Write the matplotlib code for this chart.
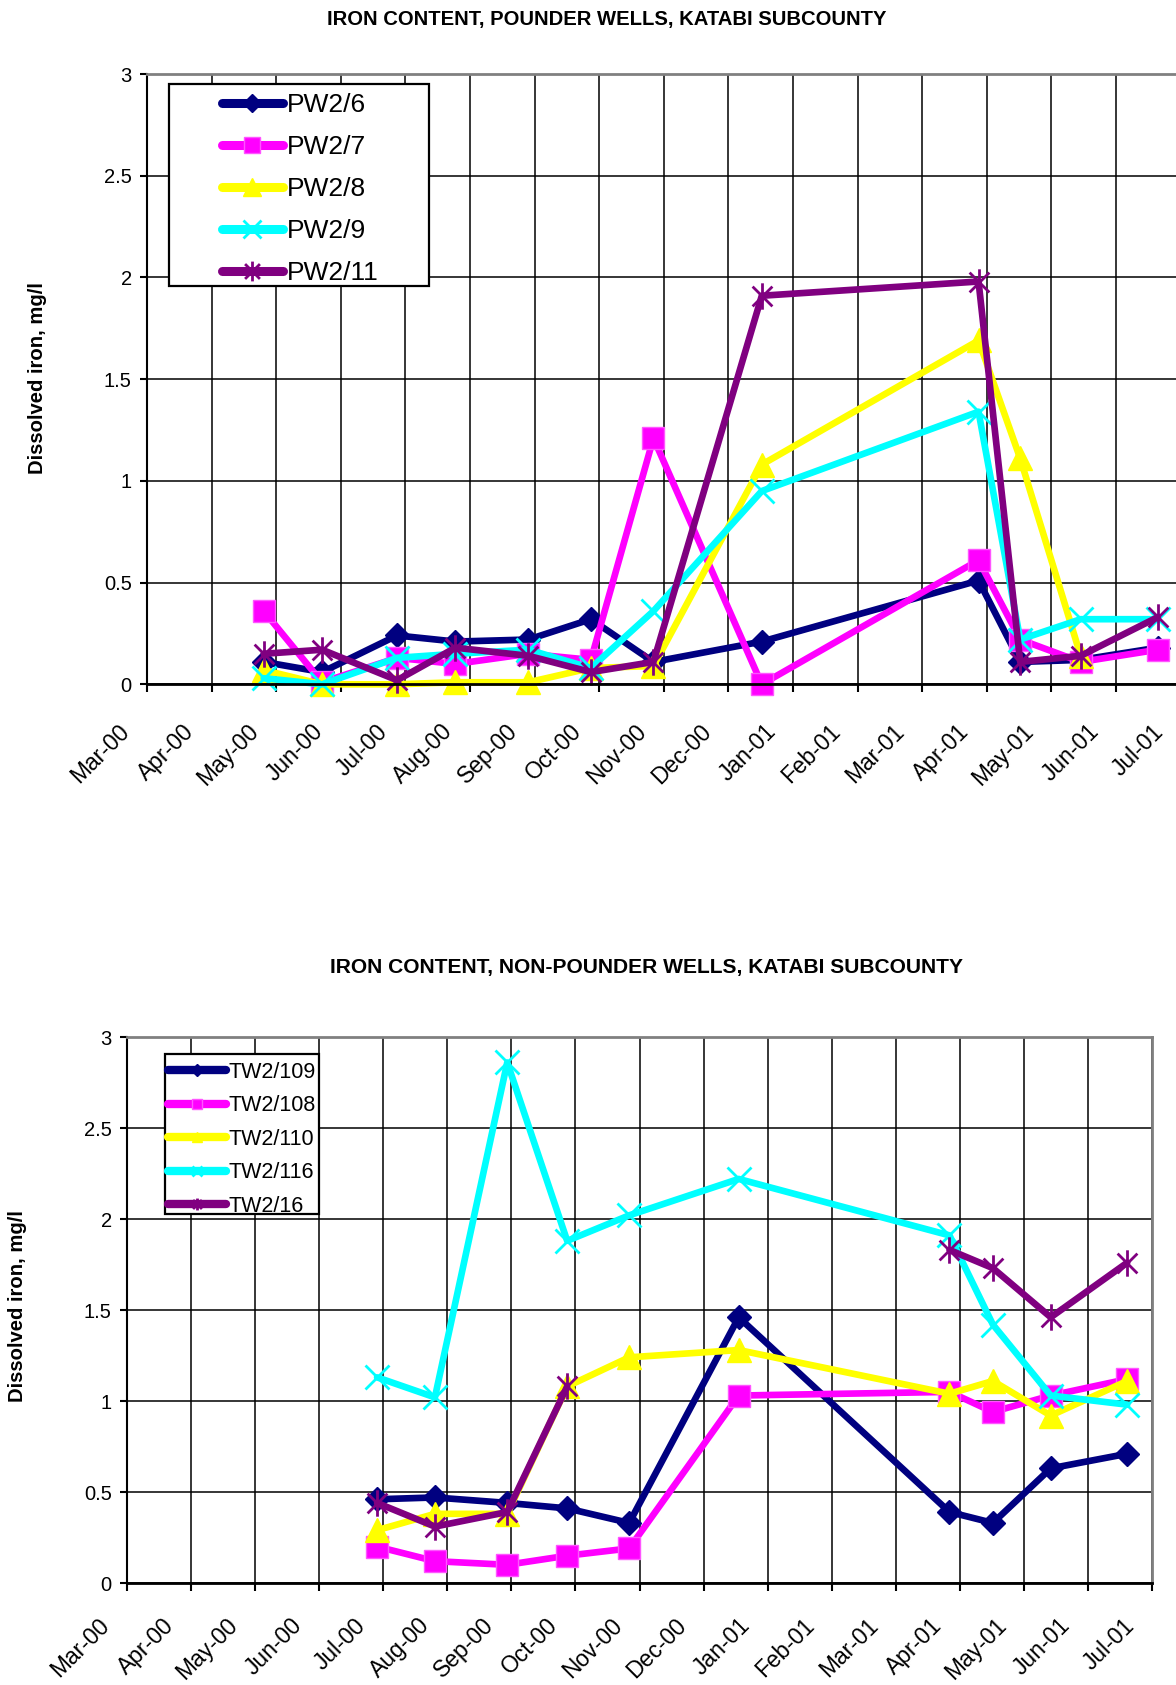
import numpy as np
import matplotlib
matplotlib.use("Agg")
import matplotlib.pyplot as plt
import matplotlib.dates as mdates
from matplotlib.path import Path
from matplotlib.patches import Rectangle
from matplotlib.transforms import ScaledTranslation
import datetime as dt

plt.rcParams['font.family'] = ['Liberation Sans', 'DejaVu Sans']

# ---------------- data ----------------
month_labels = ['Mar-00', 'Apr-00', 'May-00', 'Jun-00', 'Jul-00', 'Aug-00', 'Sep-00',
                'Oct-00', 'Nov-00', 'Dec-00', 'Jan-01', 'Feb-01', 'Mar-01', 'Apr-01',
                'May-01', 'Jun-01', 'Jul-01']

top_dates = ['2000-04-26', '2000-05-24', '2000-06-29', '2000-07-27', '2000-08-31',
             '2000-09-30', '2000-10-30', '2000-12-21', '2001-04-04', '2001-04-24',
             '2001-05-23', '2001-06-29']
pw2_6 = [0.11, 0.06, 0.24, 0.21, 0.22, 0.32, 0.11, 0.21, 0.51, 0.11, 0.12, 0.18]
pw2_7 = [0.36, 0.01, 0.13, 0.10, 0.15, 0.12, 1.21, 0.00, 0.61, 0.22, 0.11, 0.17]
pw2_8 = [0.07, 0.00, 0.00, 0.01, 0.01, 0.08, 0.09, 1.08, 1.69, 1.11, 0.14, np.nan]
pw2_9 = [0.03, 0.00, 0.13, 0.15, 0.17, 0.08, 0.36, 0.95, 1.34, 0.22, 0.32, 0.32]
pw2_11 = [0.15, 0.17, 0.02, 0.18, 0.14, 0.06, 0.11, 1.91, 1.98, 0.11, 0.14, 0.33]

bot_dates = ['2000-06-30', '2000-07-28', '2000-09-01', '2000-09-30', '2000-10-30',
             '2000-12-22', '2001-04-03', '2001-04-24', '2001-05-22', '2001-06-28']
tw2_109 = [0.46, 0.47, 0.44, 0.41, 0.33, 1.46, 0.39, 0.33, 0.63, 0.71]
tw2_108 = [0.20, 0.12, 0.10, 0.15, 0.19, 1.03, 1.05, 0.94, 1.03, 1.12]
tw2_110 = [0.29, 0.38, 0.38, 1.08, 1.24, 1.28, 1.04, 1.11, 0.92, 1.11]
tw2_116 = [1.13, 1.02, 2.86, 1.88, 2.02, 2.22, 1.91, 1.42, 1.03, 0.98]
tw2_16 = [0.44, 0.31, 0.39, 1.08, np.nan, np.nan, 1.83, 1.73, 1.46, 1.76]

# ---------------- styles ----------------
star_path = Path([(0, -1), (0, 1), (-0.75, -0.75), (0.75, 0.75), (-0.75, 0.75), (0.75, -0.75)],
                 [Path.MOVETO, Path.LINETO] * 3)

styles = [
    dict(color='#000080', marker='D', ms=12.5, mfc='#000080', mec='#000080', mew=1),
    dict(color='#FF00FF', marker='s', ms=16, mfc='#FF00FF', mec='#FF55FF', mew=1),
    dict(color='#FFFF00', marker='^', ms=17, mfc='#FFFF00', mec='#FFFF00', mew=1),
    dict(color='#00FFFF', marker='x', ms=17, mec='#00FFFF', mew=2),
    dict(color='#800080', marker=star_path, ms=19, mfc='none', mec='#800080', mew=2),
]

W, H = 1176, 1685
fig = plt.figure(figsize=(W / 100, H / 100), dpi=100)

start = dt.date(2000, 3, 1)
tick_dates = [start + dt.timedelta(days=31 * k) for k in range(len(month_labels))]
xmin = mdates.date2num(tick_dates[0])
xmax = mdates.date2num(tick_dates[-1])


def setup_axes(ax, right_spine, xpad):
    ax.set_xlim(xmin, xmax)
    ax.set_ylim(0, 3)
    ax.set_yticks(np.arange(0, 3.01, 0.5))
    ax.set_yticklabels(['0', '0.5', '1', '1.5', '2', '2.5', '3'])
    ax.set_xticks([mdates.date2num(d) for d in tick_dates])
    ax.set_xticklabels(month_labels, rotation=45, ha='right', va='center',
                       rotation_mode='anchor', fontsize=16.5)
    ax.grid(True, color='black', linewidth=1.1)
    ax.set_axisbelow(True)
    ax.spines['top'].set_color('#808080')
    ax.spines['top'].set_linewidth(2)
    ax.spines['right'].set_visible(right_spine)
    ax.spines['right'].set_color('#808080')
    ax.spines['right'].set_linewidth(2)
    ax.spines['left'].set_linewidth(1.5)
    ax.spines['bottom'].set_linewidth(2)
    ax.tick_params(axis='x', direction='out', length=6, width=1.5, pad=xpad)
    ax.tick_params(axis='y', direction='out', length=5, width=1.5, pad=6, labelsize=14.5)
    off = ScaledTranslation(-21 / 100, 0, fig.dpi_scale_trans)
    for lab in ax.get_xticklabels():
        lab.set_transform(lab.get_transform() + off)


def legend_box(x0, y0, x1, y1):
    r = Rectangle((x0 / W, 1 - y1 / H), (x1 - x0) / W, (y1 - y0) / H,
                  transform=fig.transFigure, facecolor='white', edgecolor='black',
                  linewidth=1.6, zorder=4)
    fig.add_artist(r)


# ---------------- top chart ----------------
ax1_l, ax1_r, ax1_t, ax1_b = 147, 1180.7, 74, 684.3
ax1 = fig.add_axes([ax1_l / W, 1 - ax1_b / H, (ax1_r - ax1_l) / W, (ax1_b - ax1_t) / H])
setup_axes(ax1, right_spine=False, xpad=25.5)
tx = mdates.datestr2num(top_dates)
for vals, name, st in zip([pw2_6, pw2_7, pw2_8, pw2_9, pw2_11],
                          ['PW2/6', 'PW2/7', 'PW2/8', 'PW2/9', 'PW2/11'], styles):
    ax1.plot(tx, vals, label=name, linewidth=4.8, solid_capstyle='round',
             solid_joinstyle='round', clip_on=False, **st)
legend_box(169, 84, 429, 286)
leg1 = fig.legend(*ax1.get_legend_handles_labels(), loc='upper left',
                  bbox_to_anchor=(222 / W, 1 - 93 / H), borderaxespad=0, borderpad=0,
                  fontsize=19, frameon=False, handlelength=2.3, handletextpad=0.15,
                  labelspacing=0.68, markerscale=0.75)
leg1.set_zorder(6)
for h in leg1.get_lines():
    h.set_linewidth(6.5)

fig.text(607 / W, 1 - 20 / H, 'IRON CONTENT, POUNDER WELLS, KATABI SUBCOUNTY',
         ha='center', va='center', fontsize=14.6, fontweight='bold')
fig.text(38 / W, 1 - 378 / H, 'Dissolved iron, mg/l', rotation=90, ha='center',
         va='center', fontsize=14.6, fontweight='bold')

# ---------------- bottom chart ----------------
ax2_l, ax2_r, ax2_t, ax2_b = 127, 1152, 1037, 1583
ax2 = fig.add_axes([ax2_l / W, 1 - ax2_b / H, (ax2_r - ax2_l) / W, (ax2_b - ax2_t) / H])
setup_axes(ax2, right_spine=True, xpad=22)
bx = mdates.datestr2num(bot_dates)
for vals, name, st in zip([tw2_109, tw2_108, tw2_110, tw2_116, tw2_16],
                          ['TW2/109', 'TW2/108', 'TW2/110', 'TW2/116', 'TW2/16'], styles):
    ax2.plot(bx, vals, label=name, linewidth=4.8, solid_capstyle='round',
             solid_joinstyle='round', clip_on=False, **st)
legend_box(165, 1054, 319, 1214)
leg2 = fig.legend(*ax2.get_legend_handles_labels(), loc='upper left',
                  bbox_to_anchor=(168 / W, 1 - 1062 / H), borderaxespad=0, borderpad=0,
                  fontsize=15.5, frameon=False, handlelength=2.7, handletextpad=0.12,
                  labelspacing=0.58, markerscale=0.45)
leg2.set_zorder(6)
for h in leg2.get_lines():
    h.set_linewidth(6)

fig.text(646 / W, 1 - 967 / H, 'IRON CONTENT, NON-POUNDER WELLS, KATABI SUBCOUNTY',
         ha='center', va='center', fontsize=15.1, fontweight='bold')
fig.text(18 / W, 1 - 1306 / H, 'Dissolved iron, mg/l', rotation=90, ha='center',
         va='center', fontsize=14.6, fontweight='bold')

fig.savefig('out.png', dpi=100)
